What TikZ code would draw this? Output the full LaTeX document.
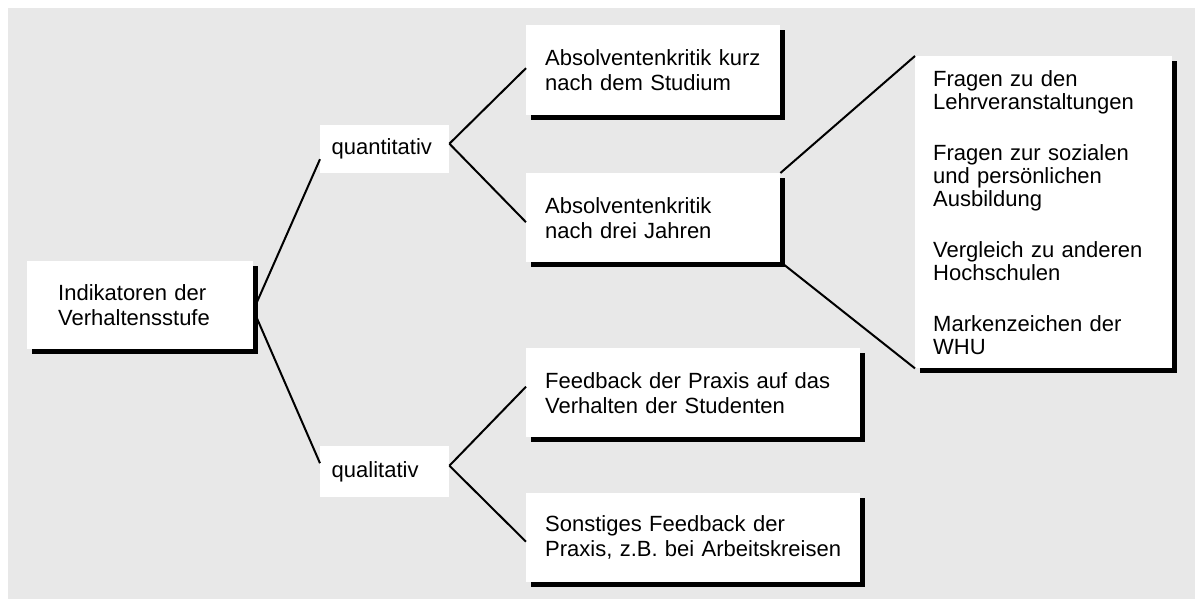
\documentclass[tikz,border=0pt]{standalone}
\usepackage{fontspec}
\setmainfont{Liberation Sans}
\usetikzlibrary{calc}
\usetikzlibrary{shadows}

\definecolor{bggray}{RGB}{232,232,232}

\tikzset{
    plainbox/.style={fill=white, anchor=north west, align=left, inner ysep=0pt},
    shadowbox/.style={plainbox, drop shadow={shadow xshift=4.5pt, shadow yshift=-4.5pt, fill=black, opacity=1}},
    branch/.style={black, line width=2pt}
}

\begin{document}
\begin{tikzpicture}[x=1pt, y=-1pt, font=\fontsize{22}{25}\selectfont]
    \fill[white] (0,0) rectangle (1195,599);
    \useasboundingbox (0,0) rectangle (1195,599);
    \fill[bggray] (8,8) rectangle (1195,599);

    \node (root) [shadowbox, inner xsep=31pt, text width=164pt, minimum height=88pt] at (27,261) {Indikatoren der\\Verhaltensstufe};
    \node (quant) [plainbox, inner xsep=11.5pt, text width=106pt, minimum height=48pt] at (320,125) {quantitativ};
    \node (qual) [plainbox, inner xsep=11.5pt, text width=106pt, minimum height=51pt] at (320,446) {qualitativ};

    \node (krit1) [shadowbox, inner xsep=19pt, text width=216pt, minimum height=90pt] at (526,25) {Absolventenkritik kurz\\nach dem Studium};
    \node (krit2) [shadowbox, inner xsep=19pt, text width=216pt, minimum height=89pt] at (526,173) {Absolventenkritik\\nach drei Jahren};
    \node (praxis1) [shadowbox, inner xsep=19pt, text width=296pt, minimum height=89pt] at (526,348) {Feedback der Praxis auf das\\Verhalten der Studenten};
    \node (praxis2) [shadowbox, inner xsep=19pt, text width=296pt, minimum height=89pt] at (526,493) {Sonstiges Feedback der\\Praxis, z.B. bei Arbeitskreisen};

    \node (fragen) [shadowbox, inner xsep=18pt, text width=221pt, minimum height=312pt, font=\fontsize{22}{23}\selectfont] at (915,56)
        {Fragen zu den\\Lehrveranstaltungen\\[28pt]Fragen zur sozialen\\und pers\"onlichen\\Ausbildung\\[28pt]Vergleich zu anderen\\Hochschulen\\[28pt]Markenzeichen der\\WHU};

    % tree lines
    \draw[branch] ([xshift=3.5pt,yshift=3pt]root.east) -- ([yshift=-10pt]quant.west);
    \draw[branch] ([xshift=3.5pt,yshift=-13pt]root.east) -- ([yshift=8.5pt]qual.west);
    \foreach \from/\fs/\to/\ts in {quant/5.5/krit1/2, quant/5.5/krit2/-4.5, qual/6/praxis1/6, qual/6/praxis2/-4}
        \draw[branch] ([yshift=\fs pt]\from.east) -- ([yshift=\ts pt]\to.west);
    \draw[branch] (krit2.north east) -- (fragen.north west);
    \draw[branch] ([xshift=2pt,yshift=-1pt]krit2.south east) -- (fragen.south west);
\end{tikzpicture}
\end{document}
